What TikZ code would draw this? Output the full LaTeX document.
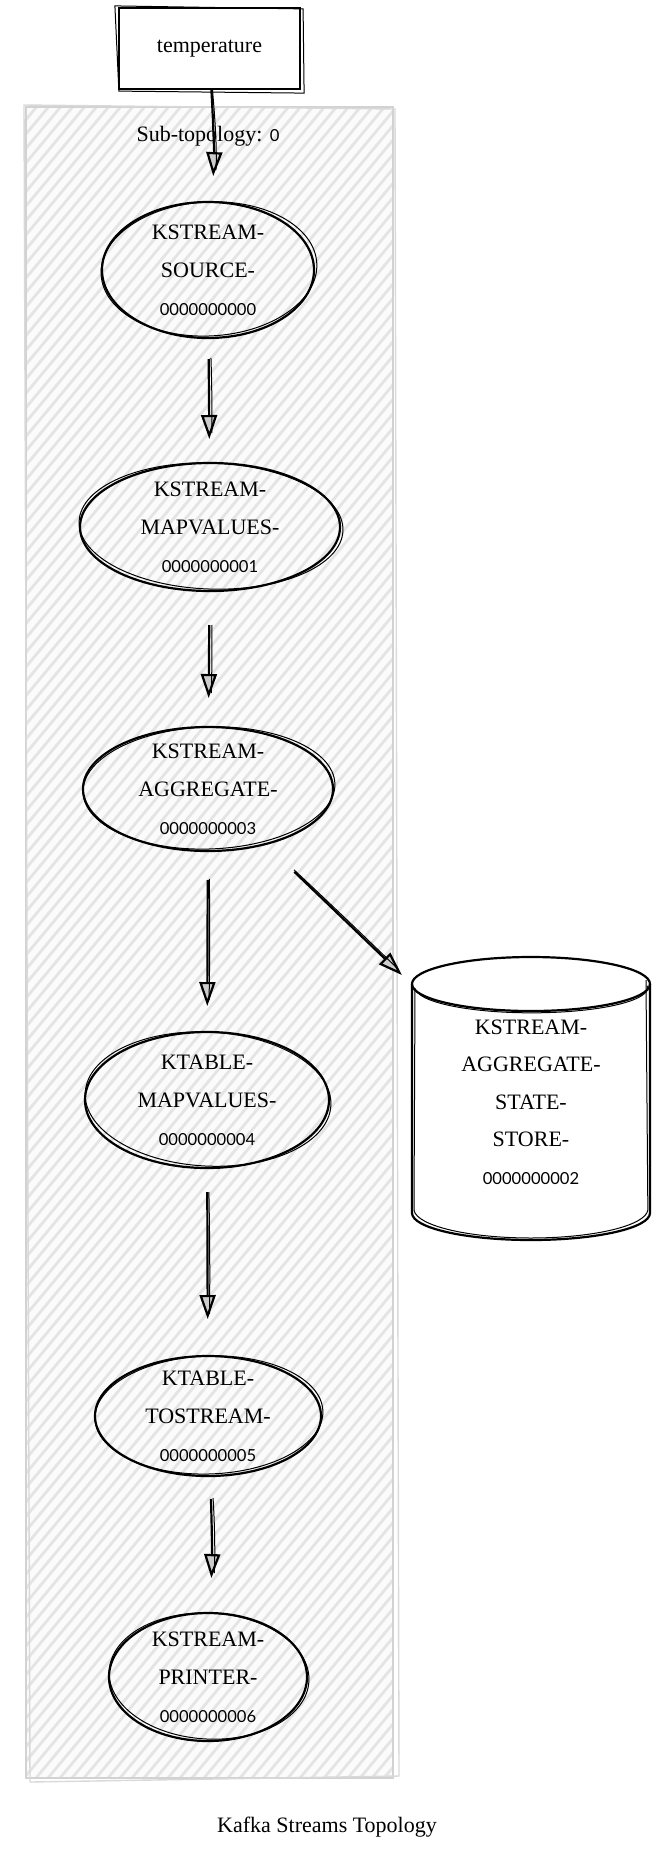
\documentclass[tikz,border=0pt]{standalone}
\usepackage{fontspec}
\setmainfont{Liberation Serif}
\newfontfamily\digf{Lato}
\usetikzlibrary{arrows.meta,shapes.geometric,calc}
\newcommand\skel[4]{\draw[sk, rotate around={#4:(#1.center)}] ($(#1.center)+(1,-1)$) ellipse[x radius=#2, y radius=#3];}
\newcommand\dg[1]{{\digf\fontsize{8.3}{19}\selectfont #1}}
\begin{document}
\begin{tikzpicture}[x=0.5pt,y=-0.5pt,
  proc/.style={ellipse, draw=black, line width=1.1pt, inner sep=0pt, outer sep=0pt},
  sk/.style={line width=0.5pt},
  txt/.style={align=center, font=\fontsize{11}{19}\selectfont, inner sep=0pt},
  arr/.style={-{Triangle[length=12pt,width=8pt,fill=gray!40]}, line width=1.1pt},
  hatch/.style={draw=gray!21, line width=1.4pt}]
\useasboundingbox (0,0) rectangle (655,1859);
% panel
\fill[gray!3] (26,107) rectangle (393,1778);
\begin{scope}
\clip (26,107) rectangle (393,1778);
\foreach \i in {-1390,-1378,...,400} \draw[hatch] (\i,1790) -- ++(1450,-1740);
\end{scope}
\draw[gray!35, line width=1pt] (26,107) rectangle (393,1778);
\draw[gray!30, line width=0.7pt] (24,105) -- (395,109) -- (399,1776) -- (30,1782) -- cycle;
% source box
\node[draw, line width=1.1pt, minimum width=90.5pt, minimum height=40.5pt, inner sep=0pt, fill=white, font=\fontsize{11}{13}\selectfont] (temp) at (209.5,48.5) {temperature};
\draw[sk] ($(temp.north west)+(-3,-1)$) -- ($(temp.north east)+(2,2)$) -- ($(temp.south east)+(3,3)$) -- ($(temp.south west)+(1,1)$) -- cycle;
\node[font=\fontsize{11}{13}\selectfont, inner sep=0pt] (sublbl) at (208,136) {Sub-topology: \dg{0}};
% processors
\node[proc, minimum width=106pt, minimum height=68pt] (n0) at (208,270) {};
\node[proc, minimum width=130pt, minimum height=64pt] (n1) at (210,527) {};
\node[proc, minimum width=125pt, minimum height=62pt] (n2) at (208,789) {};
\node[proc, minimum width=122pt, minimum height=68pt] (n3) at (207,1100) {};
\node[proc, minimum width=113pt, minimum height=60pt] (n4) at (208,1416) {};
\node[proc, minimum width=99pt, minimum height=64pt] (n5) at (208,1677) {};
\skel{n0}{54pt}{33.5pt}{3}
\skel{n1}{66pt}{31.5pt}{-2}
\skel{n2}{63pt}{30.5pt}{2}
\skel{n3}{61.5pt}{33.5pt}{-3}
\skel{n4}{57pt}{29.5pt}{2}
\skel{n5}{50pt}{31.5pt}{-3}
\node[txt] (t0) at (n0.center) {KSTREAM-\\SOURCE-\\\dg{0000000000}};
\node[txt] (t1) at (n1.center) {KSTREAM-\\MAPVALUES-\\\dg{0000000001}};
\node[txt] (t2) at (n2.center) {KSTREAM-\\AGGREGATE-\\\dg{0000000003}};
\node[txt] (t3) at (n3.center) {KTABLE-\\MAPVALUES-\\\dg{0000000004}};
\node[txt] (t4) at (n4.center) {KTABLE-\\TOSTREAM-\\\dg{0000000005}};
\node[txt] (t5) at (n5.center) {KSTREAM-\\PRINTER-\\\dg{0000000006}};
% store
\node[minimum width=119pt, minimum height=141.5pt, inner sep=0pt, outer sep=0pt] (store) at (531,1098.5) {};
\fill[white] (412,984) -- (412,1213) arc[start angle=180,end angle=360,x radius=59.5pt,y radius=13.5pt] -- (650,984) arc[start angle=0,end angle=180,x radius=59.5pt,y radius=13.5pt] -- cycle;
\draw[line width=1.1pt] (412,984) -- (412,1213) arc[start angle=180,end angle=360,x radius=59.5pt,y radius=13.5pt] -- (650,984);
\draw[line width=1.1pt] (531,984) ellipse[x radius=59.5pt, y radius=13.5pt];
\draw[sk] (415,988) -- (414,1210) arc[start angle=182,end angle=358,x radius=58.5pt,y radius=14.5pt] -- (646,980);
\draw[sk] (416,990) arc[start angle=185,end angle=365,x radius=58pt,y radius=12.5pt];
\node[txt, font=\fontsize{11}{18.75}\selectfont] (st) at (531,1102) {KSTREAM-\\AGGREGATE-\\STATE-\\STORE-\\{\digf\fontsize{8.3}{18.75}\selectfont 0000000002}};
% connectors
\draw[arr, shorten >=13pt] (temp) to[bend left=3] (n0);
\draw[sk, shorten >=16pt] (temp) to[bend left=4.5] (n0);
\draw[arr, shorten <=10.5pt, shorten >=12pt] (n0) -- (n1);
\draw[sk, shorten <=10pt, shorten >=15pt] (n0) to[bend left=1.5] (n1);
\draw[arr, shorten <=17pt, shorten >=14.5pt] (n1) -- (n2);
\draw[sk, shorten <=17pt, shorten >=17pt] (n1) to[bend left=1.5] (n2);
\draw[arr, shorten <=14.5pt, shorten >=13pt] (n2) -- (n3);
\draw[sk, shorten <=14pt, shorten >=16pt] (n2) to[bend left=1] (n3);
\draw[arr, shorten <=12pt, shorten >=18.5pt] (n3) -- (n4);
\draw[sk, shorten <=12pt, shorten >=21pt] (n3) to[bend left=1] (n4);
\draw[arr, shorten <=11.5pt, shorten >=17.5pt] (n4) to[bend left=2] (n5);
\draw[sk, shorten <=11pt, shorten >=20pt] (n4) to[bend left=3.5] (n5);
\draw[arr, shorten <=20pt, shorten >=7pt] (n2) -- (store);
\draw[sk, shorten <=19pt, shorten >=10pt] (n2) to[bend left=0.5] (store);
% title
\node[font=\fontsize{11}{13}\selectfont, inner sep=0pt] (title) at (327,1827) {Kafka Streams Topology};
\end{tikzpicture}
\end{document}
